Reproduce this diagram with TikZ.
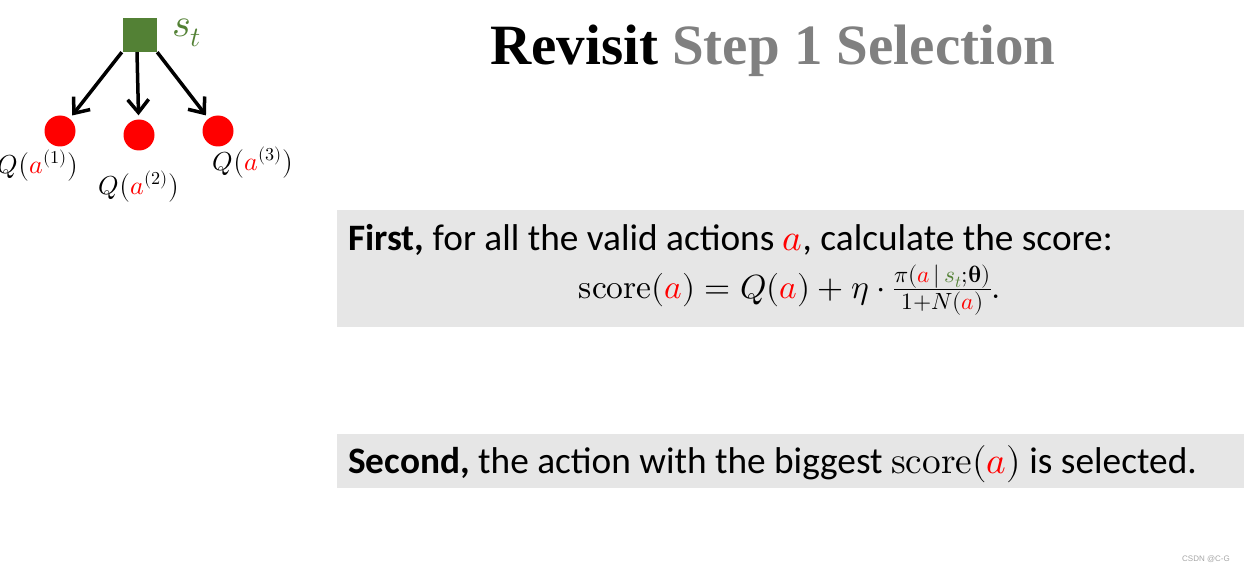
\documentclass[tikz,border=0pt]{standalone}
\usepackage{amsmath}
\usepackage{fontspec}
\usepackage{unicode-math}
\setmainfont{Carlito}
\setmathfont{Latin Modern Math}
\newfontfamily\titlefont{Liberation Serif}
\newfontfamily\wmfont{Liberation Sans}
\usetikzlibrary{arrows.meta}
\definecolor{sgreen}{HTML}{538135}
\definecolor{boxgray}{HTML}{E6E6E6}
\definecolor{titlegray}{HTML}{808080}
\definecolor{ared}{HTML}{FF0000}
\newcommand{\ra}{{\color{ared}a}}
\begin{document}
\begin{tikzpicture}[x=1pt,y=-1pt,
  state/.style={fill=sgreen,minimum size=34pt,inner sep=0pt},
  act/.style={circle,fill=ared,minimum size=31pt,inner sep=0pt},
  arr/.style={line width=3.5pt,-{Straight Barb[length=13pt,width=21pt,line width=3.5pt]},shorten >=4pt},
  qlab/.style={inner sep=0pt,font=\fontsize{26}{30}\selectfont},
  band/.style={fill=boxgray,draw=none},
  body/.style={inner sep=0pt,anchor=base west,font=\fontsize{37.3}{42}\selectfont}]
\useasboundingbox (0,0) rectangle (1244,572);
% boxes
\path[band] (337,210) rectangle (1244,327);
\path[band] (337,434) rectangle (1244,488);
% tree
\node[state] (s) at (140,35) {};
\node[inner sep=0pt,anchor=west,text=sgreen,font=\fontsize{40}{44}\selectfont] (sl) at (172,33) {$s_t$};
\node[act] (c1) at (60,131) {};
\node[act] (c2) at (139,135) {};
\node[act] (c3) at (218,131) {};
\draw[arr] ([xshift=-1pt]s.south west) -- (c1);
\draw[arr] ([xshift=-3pt]s.south) -- (c2);
\draw[arr] (s.south east) -- (c3);
\node[qlab] (q1) at (38,166) {$Q\bigl(\ra^{(1)}\bigr)$};
\node[qlab] (q2) at (139,187) {$Q\bigl(\ra^{(2)}\bigr)$};
\node[qlab] (q3) at (253,163) {$Q\bigl(\ra^{(3)}\bigr)$};
% title
\node[inner sep=0pt,anchor=base west,font=\titlefont\bfseries\fontsize{57}{62}\selectfont] (title) at (490,65)
  {Revisit {\color{titlegray}Step 1 Selection}};
% text
\node[body] (first) at (348,250) {\textbf{First,} for all the valid actions $\ra$, calculate the score:};
\node[inner sep=0pt,anchor=base,font=\fontsize{33.5}{38}\selectfont] (formula) at (790,298)
  {$\symup{score}(\ra)=Q(\ra)+\eta\cdot\tfrac{\pi(\ra\,|\,{\color{sgreen}s_t};\symbfup{\theta})}{1+N(\ra)}.$};
\node[body] (second) at (348,473) {\textbf{Second,} the action with the biggest $\symup{score}(\ra)$ is selected.};
\node[inner sep=0pt,anchor=base east,text=gray!70,font=\wmfont\fontsize{8}{9}\selectfont] (wm) at (1230,561) {CSDN @C-G};
\end{tikzpicture}
\end{document}
